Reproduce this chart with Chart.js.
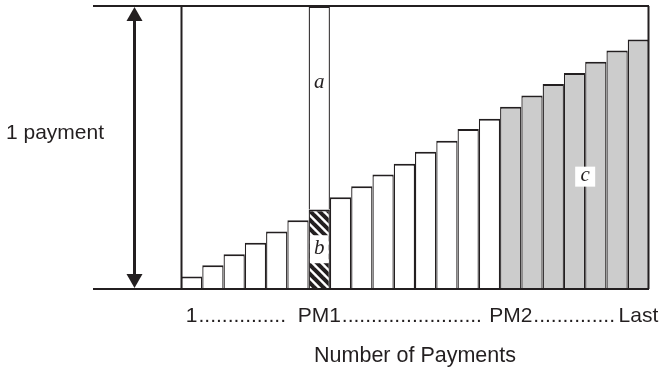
<!DOCTYPE html>
<html><head><meta charset="utf-8">
<script src="https://cdn.jsdelivr.net/npm/chart.js@4.4.0/dist/chart.umd.min.js"></script>
<style>html,body{margin:0;padding:0;background:#fff;}#wrap{width:662px;height:369px;}</style>
</head><body><div id="wrap"><canvas id="c" width="662" height="369"></canvas></div>
<script>
// ---- data ----
const categories = ['1','2','3','4','5','6','7','8','9','10','11','12','13','14','15','16','17','18','19','20','21','22'];
const tickLabels = ['1','','','','','','PM1','','','','','','','','','PM2','','','','','','Last'];
const principalPart = [0.044,0.084,0.123,0.163,0.203,0.243,0.281,0.324,0.363,0.405,0.443,0.485,0.524,0.565,0.602,0.644,0.684,0.724,0.763,0.803,0.843,0.882];
const interestPart = [null,null,null,null,null,null,0.719,null,null,null,null,null,null,null,null,null,null,null,null,null,null,null];
const pm1Index = 6;
const pm2Index = 15;
const sideLabel = '1 payment';
const axisTitle = 'Number of Payments';
const regionLetters = ['a','b','c'];

const INK = '#231f20';
const GRAY = '#cccccc';
const FONT = 'Liberation Sans, Arial, Helvetica, sans-serif';

// hatch pattern
function makeHatch(){
  const s = 9;
  const cv = document.createElement('canvas');
  cv.width = s; cv.height = s;
  const g = cv.getContext('2d');
  g.fillStyle = '#fff'; g.fillRect(0,0,s,s);
  g.strokeStyle = INK; g.lineWidth = 4; g.lineCap = 'square';
  for (const k of [-1,0,1]) { g.beginPath(); g.moveTo(k*s, 0); g.lineTo(k*s + s, s); g.stroke(); }
  return g.createPattern(cv, 'repeat');
}
const hatch = makeHatch();

const fills = principalPart.map((v,i)=> i===pm1Index ? hatch : (i>=pm2Index ? GRAY : '#ffffff'));

const decor = {
  id:'decor',
  afterDatasetsDraw(chart){
    const {ctx, chartArea:ca, scales:{x,y}} = chart;
    const yTop = y.getPixelForValue(1), yBot = y.getPixelForValue(0);
    ctx.save();
    const meta0 = chart.getDatasetMeta(0).data[pm1Index];
    const bw = meta0.width;
    const bx = meta0.x;
    // b box
    const bMid = (meta0.y + meta0.base)/2;
    ctx.fillStyle = '#fff';
    ctx.fillRect(bx - bw/2 + 1.3, bMid - 14, bw - 2.6, 28);
    // c box
    const cx = x.getPixelForValue(18.5), cy = y.getPixelForValue(0.397);
    ctx.fillRect(cx - 10, cy - 10, 20, 20);
    ctx.fillStyle = INK;
    ctx.font = 'italic 21px "Liberation Serif", "Times New Roman", serif';
    ctx.textAlign = 'center'; ctx.textBaseline = 'middle';
    ctx.fillText(regionLetters[0], bx, y.getPixelForValue(0.73));
    ctx.fillText(regionLetters[1], bx, bMid - 1);
    ctx.fillText(regionLetters[2], cx, cy - 1);

    // frame lines
    ctx.strokeStyle = INK; ctx.lineWidth = 2;
    ctx.beginPath();
    ctx.moveTo(ca.left - 88, yTop); ctx.lineTo(ca.right, yTop);
    ctx.moveTo(ca.left - 88, yBot); ctx.lineTo(ca.right, yBot);
    ctx.moveTo(ca.left + 0.5, yTop); ctx.lineTo(ca.left + 0.5, yBot);
    ctx.moveTo(ca.right - 0.5, yTop); ctx.lineTo(ca.right - 0.5, yBot);
    ctx.stroke();

    // double arrow
    const ax = ca.left - 46.5;
    ctx.lineWidth = 3;
    ctx.beginPath(); ctx.moveTo(ax, yTop + 10); ctx.lineTo(ax, yBot - 10); ctx.stroke();
    ctx.fillStyle = INK;
    ctx.beginPath(); ctx.moveTo(ax, yTop + 1); ctx.lineTo(ax - 8, yTop + 15); ctx.lineTo(ax + 8, yTop + 15); ctx.closePath(); ctx.fill();
    ctx.beginPath(); ctx.moveTo(ax, yBot - 1); ctx.lineTo(ax - 8, yBot - 15); ctx.lineTo(ax + 8, yBot - 15); ctx.closePath(); ctx.fill();

    // side label
    ctx.font = '21px ' + FONT;
    ctx.textAlign = 'left'; ctx.textBaseline = 'middle';
    ctx.fillText(sideLabel, 6, (yTop + yBot)/2 - 14);

    // dotted leaders between tick labels
    const tickY = x.top + 15 + 21*1.2/2;
    const dotW = ctx.measureText('.').width;
    const gapsBefore = [12, 8, 2];
    const idx = tickLabels.map((t,i)=>t? i : -1).filter(i=>i>=0);
    for (let k=0;k<idx.length-1;k++){
      const l = tickLabels[idx[k]], r = tickLabels[idx[k+1]];
      const start = x.getPixelForValue(idx[k]) + ctx.measureText(l).width/2 + 1;
      const end = x.getPixelForValue(idx[k+1]) - ctx.measureText(r).width/2 - gapsBefore[k];
      const n = Math.round((end - start)/dotW);
      ctx.textAlign = 'left';
      ctx.fillText('.'.repeat(n), start, tickY);
    }
    ctx.restore();
  }
};

const barBorder = {top:2,left:1.3,right:1.3,bottom:0};
new Chart(document.getElementById('c'), {
  type:'bar',
  data:{
    labels: categories,
    datasets:[
      {label:'principal', data: principalPart, backgroundColor: fills, borderColor: INK, borderWidth: barBorder, borderSkipped:'bottom', inflateAmount:0, barPercentage:1, categoryPercentage:1},
      {label:'interest', data: interestPart, backgroundColor:'#ffffff', borderColor: INK, borderWidth: barBorder, borderSkipped:'bottom', inflateAmount:0, barPercentage:1, categoryPercentage:1}
    ]
  },
  options:{
    responsive:false, animation:false, devicePixelRatio:1,
    layout:{padding:{left:181, right:13, top:6, bottom:0}},
    plugins:{legend:{display:false}, tooltip:{enabled:false}},
    scales:{
      x:{stacked:true, offset:true,
         grid:{display:false, drawTicks:false}, border:{display:false},
         ticks:{autoSkip:false, maxRotation:0, minRotation:0, padding:15, color:INK, font:{family:FONT, size:21}, callback:(v,i)=>tickLabels[i]},
         title:{display:true, text:axisTitle, color:INK, font:{family:FONT, size:21.5}, padding:{top:0,bottom:0}},
         afterFit:(s)=>{ s.height = 80; s.paddingLeft = 0; s.paddingRight = 0; }
      },
      y:{stacked:true, display:false, min:0, max:1}
    }
  },
  plugins:[decor]
});
</script></body></html>
